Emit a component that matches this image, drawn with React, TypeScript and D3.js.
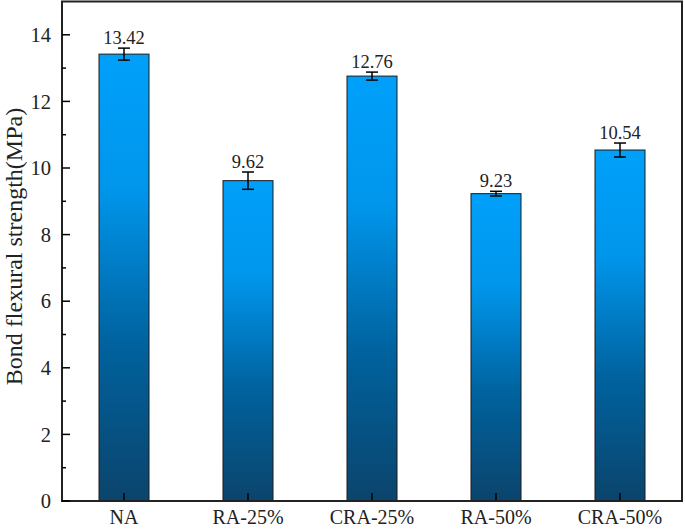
import React from "react";
import * as d3 from "d3";

const categories = ["NA", "RA-25%", "CRA-25%", "RA-50%", "CRA-50%"];
const values = [13.42, 9.62, 12.76, 9.23, 10.54];
const errors = [0.18, 0.26, 0.12, 0.07, 0.21];
const yTicks = [0, 2, 4, 6, 8, 10, 12, 14];
const yMinorTicks = [1, 3, 5, 7, 9, 11, 13];

export default function App() {
  const W = 685, H = 529;
  const left = 62, right = 682, top = 1.5, bottom = 501;
  const x = d3.scaleBand().domain(categories).range([left, right]).padding(0);
  const y = d3.scaleLinear().domain([0, 15]).range([bottom, top]);
  const bw = 50;
  const font = "'Liberation Serif', 'Times New Roman', serif";
  return (
    <svg width={W} height={H} style={{ position: "absolute", left: 0, top: 0, background: "#fff" }}>
      <defs>
        <linearGradient id="barGrad" x1="0" y1="0" x2="0" y2="1">
          <stop offset="0" stopColor="#00A0FA" />
          <stop offset="0.3" stopColor="#0096EC" />
          <stop offset="0.65" stopColor="#00629E" />
          <stop offset="1" stopColor="#0B446C" />
        </linearGradient>
      </defs>
      {categories.map((c, i) => {
        const cx = x(c)! + x.bandwidth() / 2;
        const v = values[i];
        const e = errors[i];
        return (
          <g key={c}>
            <rect x={cx - bw / 2} y={y(v)} width={bw} height={y(0) - y(v)} fill="url(#barGrad)" stroke="#1a1a1a" strokeWidth={1} />
            <line x1={cx} x2={cx} y1={y(v + e)} y2={y(v - e)} stroke="#000" strokeWidth={1.5} />
            <line x1={cx - 6} x2={cx + 6} y1={y(v + e)} y2={y(v + e)} stroke="#000" strokeWidth={1.5} />
            <line x1={cx - 6} x2={cx + 6} y1={y(v - e)} y2={y(v - e)} stroke="#000" strokeWidth={1.5} />
            <text x={cx} y={y(v + e) - 4} textAnchor="middle" fontFamily={font} fontSize={18.5} fill="#222">{v.toFixed(2)}</text>
            <line x1={cx} x2={cx} y1={bottom} y2={bottom - 8} stroke="#000" strokeWidth={1.5} />
            <text x={cx} y={524} textAnchor="middle" fontFamily={font} fontSize={20} fill="#222">{c}</text>
          </g>
        );
      })}
      <rect x={left} y={top} width={right - left} height={bottom - top} fill="none" stroke="#222" strokeWidth={2} />
      {yTicks.map((t) => (
        <g key={t}>
          <line x1={left} x2={left + 8} y1={y(t)} y2={y(t)} stroke="#000" strokeWidth={1.5} />
          <text x={51} y={y(t)} dy="0.35em" textAnchor="end" fontFamily={font} fontSize={20.5} fill="#222">{t}</text>
        </g>
      ))}
      {yMinorTicks.map((t) => (
        <line key={t} x1={left} x2={left + 4} y1={y(t)} y2={y(t)} stroke="#000" strokeWidth={1.5} />
      ))}
      <text transform={`translate(22, 246.5) rotate(-90)`} textAnchor="middle" fontFamily={font} fontSize={24} fill="#222">Bond flexural strength(MPa)</text>
    </svg>
  );
}
